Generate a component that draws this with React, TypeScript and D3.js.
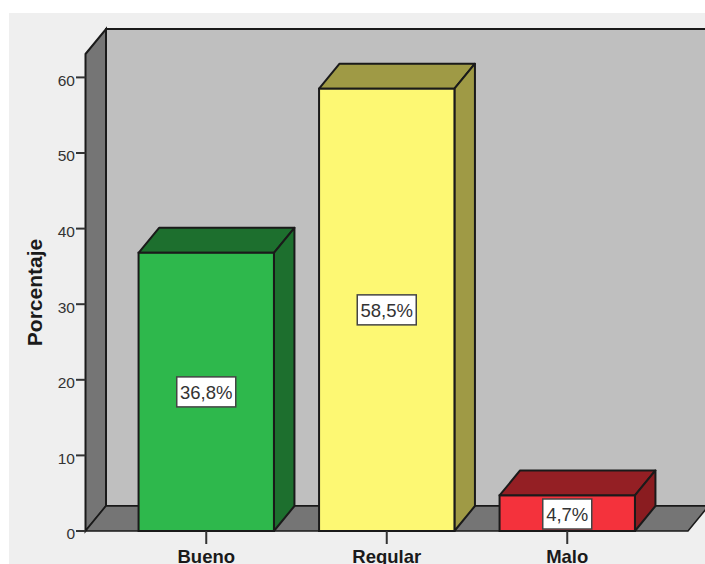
import { useEffect, useRef } from 'react';
import * as d3 from 'd3';

const categories = ['Bueno', 'Regular', 'Malo'];
const percentages = [36.8, 58.5, 4.7];
const valueLabels = ['36,8%', '58,5%', '4,7%'];
const faceColors = ['#2eb84c', '#fdf873', '#f4323c'];
const topColors = ['#1d6f2e', '#9f9a45', '#941f24'];
const sideColors = ['#1d6f2e', '#9f9a45', '#8a1c20'];
const yTicks = [0, 10, 20, 30, 40, 50, 60];

const depthX = 20.5;
const depthY = 25;
const font = '"Liberation Sans", Arial, sans-serif';

const App = () => {
  const svgRef = useRef<SVGSVGElement>(null);

  useEffect(() => {
    const svg = d3.select(svgRef.current);
    svg.selectAll('*').remove();

    const y = d3.scaleLinear().domain([0, 60]).range([531, 77.4]);
    const x = d3.scaleBand<string>()
      .domain(categories)
      .range([116, 657.5])
      .paddingInner(0.25)
      .paddingOuter(0.125);

    const left = 85.5;
    const right = 688;
    const wallTop = 54;
    const line = d3.line();
    const stroke = '#1a1a1a';

    svg.append('rect').attr('x', 9).attr('y', 13).attr('width', 696).attr('height', 551).attr('fill', '#efefef');

    // back wall, left wall, floor
    svg.append('rect')
      .attr('x', left + depthX).attr('y', wallTop - depthY)
      .attr('width', 705 - left - depthX + 2).attr('height', 531 - wallTop)
      .attr('fill', '#bfbfbf').attr('stroke', stroke).attr('stroke-width', 2);
    svg.append('path')
      .attr('d', line([[left, wallTop], [left + depthX, wallTop - depthY], [left + depthX, 531 - depthY], [left, 531]]) + 'Z')
      .attr('fill', '#757575').attr('stroke', stroke).attr('stroke-width', 2);
    svg.append('path')
      .attr('d', line([[left, 531], [left + depthX, 531 - depthY], [right + depthX, 531 - depthY], [right, 531]]) + 'Z')
      .attr('fill', '#757575').attr('stroke', stroke).attr('stroke-width', 1.5);

    // axis ticks
    const tickGroup = svg.append('g');
    yTicks.forEach((t) => {
      tickGroup.append('line')
        .attr('x1', 76).attr('x2', left).attr('y1', y(t)).attr('y2', y(t))
        .attr('stroke', '#333').attr('stroke-width', 2);
      tickGroup.append('text')
        .attr('x', 75).attr('y', y(t) + 3).attr('dy', '0.35em')
        .attr('text-anchor', 'end').attr('font-family', font).attr('font-size', 15.5)
        .attr('fill', '#333').text(t);
    });

    svg.append('text')
      .attr('transform', 'translate(42,292.5) rotate(-90)')
      .attr('text-anchor', 'middle').attr('font-family', font)
      .attr('font-size', 21).attr('font-weight', 'bold').attr('fill', '#1a1a1a')
      .text('Porcentaje');

    // bars
    categories.forEach((c, i) => {
      const x0 = x(c) as number;
      const x1 = x0 + x.bandwidth();
      const top = y(percentages[i]);
      const mid = (x0 + x1) / 2;

      svg.append('path')
        .attr('d', line([[x0, top], [x0 + depthX, top - depthY], [x1 + depthX, top - depthY], [x1, top]]) + 'Z')
        .attr('fill', topColors[i]).attr('stroke', stroke).attr('stroke-width', 2).attr('stroke-linejoin', 'round');
      svg.append('path')
        .attr('d', line([[x1, top], [x1 + depthX, top - depthY], [x1 + depthX, 531 - depthY], [x1, 531]]) + 'Z')
        .attr('fill', sideColors[i]).attr('stroke', stroke).attr('stroke-width', 2).attr('stroke-linejoin', 'round');
      svg.append('rect')
        .attr('x', x0).attr('y', top).attr('width', x1 - x0).attr('height', 531 - top)
        .attr('fill', faceColors[i]).attr('stroke', stroke).attr('stroke-width', 2);

      svg.append('line')
        .attr('x1', mid).attr('x2', mid).attr('y1', 531).attr('y2', 544)
        .attr('stroke', '#333').attr('stroke-width', 2);
      svg.append('text')
        .attr('x', mid).attr('y', 563)
        .attr('text-anchor', 'middle').attr('font-family', font)
        .attr('font-size', 18.5).attr('font-weight', 'bold').attr('fill', '#1a1a1a')
        .text(c);

      // value label box
      const boxWidth = valueLabels[i].length === 5 ? 59 : 49;
      const boxY = i === 2 ? 499 : (top + 531) / 2 - 15;
      svg.append('rect')
        .attr('x', mid - boxWidth / 2).attr('y', boxY)
        .attr('width', boxWidth).attr('height', 30)
        .attr('fill', '#fff').attr('stroke', '#444').attr('stroke-width', 1.5);
      svg.append('text')
        .attr('x', mid).attr('y', boxY + 15).attr('dy', '0.36em')
        .attr('text-anchor', 'middle').attr('font-family', font)
        .attr('font-size', 18.5).attr('fill', '#333')
        .text(valueLabels[i]);
    });
  }, []);

  return <svg ref={svgRef} width={705} height={564} style={{ position: 'absolute', left: 0, top: 0 }} />;
};

export default App;
